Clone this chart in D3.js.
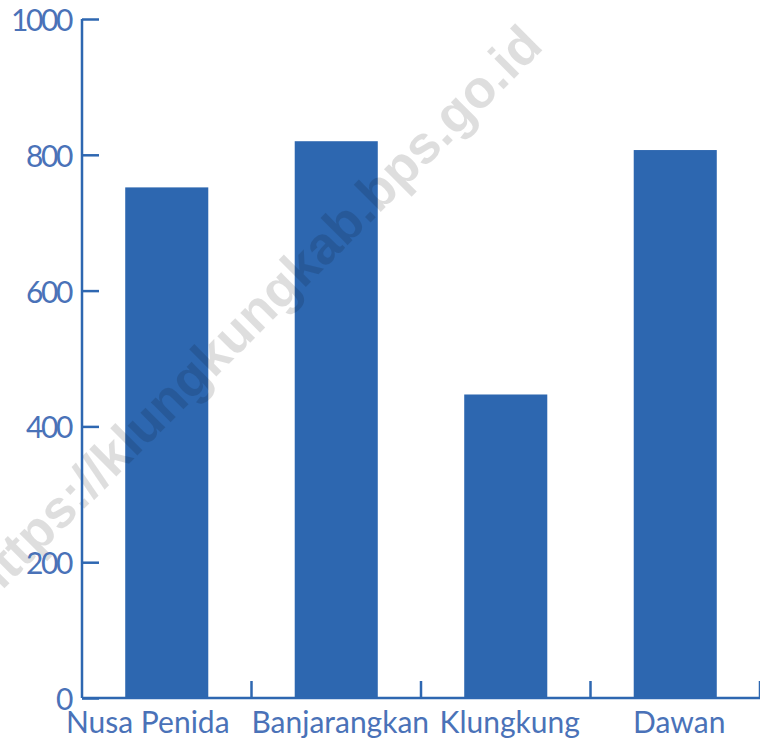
<!DOCTYPE html>
<html>
<head>
<meta charset="utf-8">
<script src="https://cdn.jsdelivr.net/npm/d3@7"></script>
<style>
  html, body { margin: 0; padding: 0; background: #ffffff; }
  svg { display: block; }
</style>
</head>
<body>
<script>
// Kecamatan in Kabupaten Klungkung and their values
const categories = ["Nusa Penida", "Banjarangkan", "Klungkung", "Dawan"];
const values = [752, 820, 447, 807];
const yTicks = [0, 200, 400, 600, 800, 1000];
const watermarkText = "https://klungkungkab.bps.go.id";

const W = 760, H = 742;
const barColor = "#2d67b0";
const axisColor = "#2e67b1";
const textColor = "#4a72b8";
const fontFamily = "Lato, 'Open Sans', sans-serif";

const svg = d3.select("body").append("svg")
  .attr("width", W).attr("height", H);

const x = d3.scaleBand()
  .domain(categories)
  .range([82, 760])
  .paddingInner(0.51)
  .paddingOuter(0.255);

const y = d3.scaleLinear()
  .domain([0, 1000])
  .range([698, 19]);

// bars
svg.append("g").selectAll("rect")
  .data(categories)
  .join("rect")
  .attr("x", d => x(d))
  .attr("width", x.bandwidth())
  .attr("y", (d, i) => y(values[i]))
  .attr("height", (d, i) => y(0) - y(values[i]))
  .attr("fill", barColor);

// diagonal site watermark, translucent gray over the bars
svg.append("text")
  .attr("transform", "translate(257,316) rotate(-45)")
  .attr("text-anchor", "middle")
  .attr("dominant-baseline", "middle")
  .style("font-family", "'Liberation Sans', Arial, sans-serif")
  .style("font-weight", "bold")
  .style("font-size", "53px")
  .style("fill", "#000")
  .style("fill-opacity", 0.13)
  .text(watermarkText);

// y axis
const yAxis = svg.append("g")
  .attr("transform", `translate(${x.range()[0]},0)`)
  .call(d3.axisRight(y).tickValues(yTicks).tickSize(17).tickFormat(d3.format("d")));
yAxis.select(".domain").attr("stroke", axisColor).attr("stroke-width", 2.5)
  .attr("d", `M0,${y(1000)}V${y(0)}`);
yAxis.selectAll(".tick line").attr("stroke", axisColor).attr("stroke-width", 2.5);
yAxis.selectAll(".tick text")
  .attr("x", -11)
  .attr("text-anchor", "end")
  .attr("dy", "0.38em")
  .style("font-family", fontFamily)
  .style("font-size", "30px")
  .style("letter-spacing", "-2.4px")
  .style("fill", textColor);

// x axis: baseline with ticks between categories
const xAxisG = svg.append("g").attr("transform", `translate(0,${y(0)})`);
xAxisG.append("line")
  .attr("x1", x.range()[0]).attr("x2", x.range()[1])
  .attr("stroke", axisColor).attr("stroke-width", 2.5);
const boundaries = categories.map(c => x(c) + x.bandwidth() + (x.step() - x.bandwidth()) / 2);
xAxisG.selectAll("line.sep")
  .data(boundaries)
  .join("line")
  .attr("class", "sep")
  .attr("x1", d => d).attr("x2", d => d)
  .attr("y1", 0).attr("y2", -17)
  .attr("stroke", axisColor).attr("stroke-width", 2.5);

xAxisG.selectAll("text.cat")
  .data(categories)
  .join("text")
  .attr("class", "cat")
  .attr("x", d => x(d) + x.bandwidth() / 2)
  .attr("dx", (d, i) => i === 0 ? -19 : 4)
  .attr("y", 35)
  .attr("text-anchor", "middle")
  .style("font-family", fontFamily)
  .style("font-size", "30px")
  .style("fill", textColor)
  .text(d => d);
</script>
</body>
</html>
